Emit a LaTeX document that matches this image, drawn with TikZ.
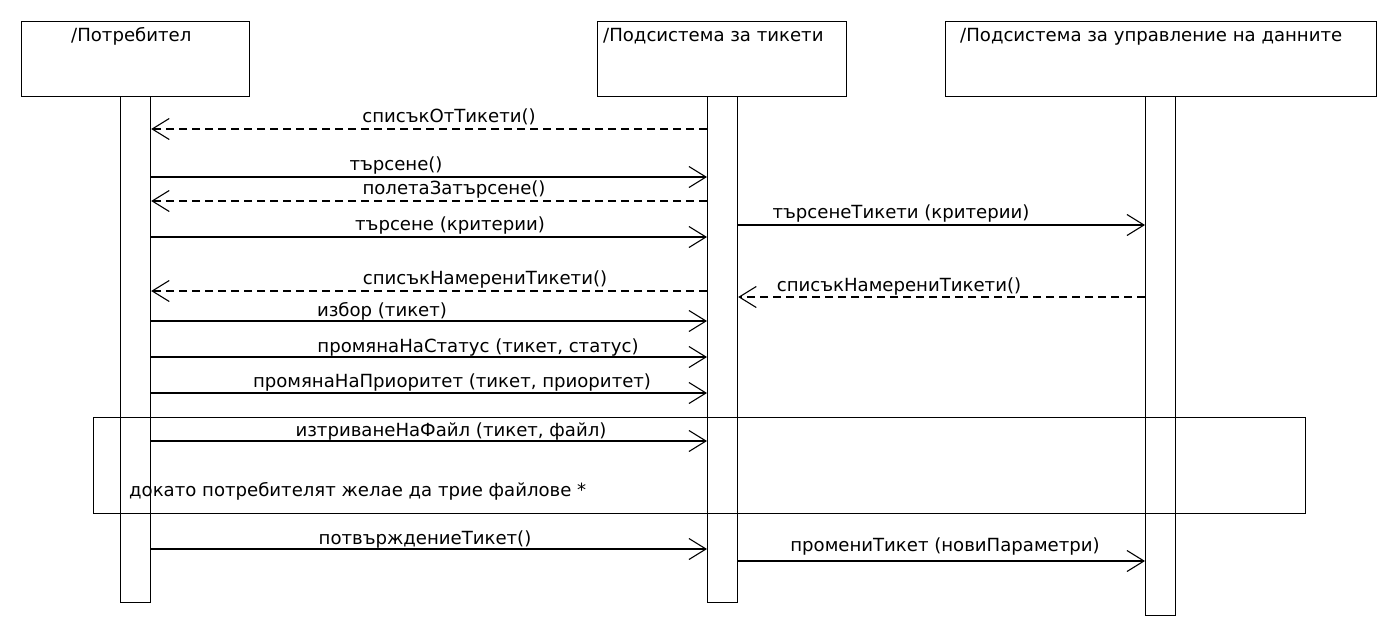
\documentclass[tikz,border=0pt]{standalone}
\usepackage{fontspec}
\setmainfont{DejaVu Sans}
\usetikzlibrary{arrows.meta}
\begin{document}
\begin{tikzpicture}[x=1pt,y=-1pt,
  every node/.style={font=\fontsize{18.1}{20}\selectfont, inner sep=0pt},
  obj/.style={draw, line width=1.2pt, anchor=north west},
  bar/.style={draw, line width=1.2pt, anchor=north west, minimum width=30pt},
  frame/.style={draw, line width=1.2pt},
  msg/.style={line width=1.1pt, -{Straight Barb[length=17pt,width=21pt,line width=1.1pt]}},
  ret/.style={msg, dash pattern=on 8pt off 5pt},
  lbl/.style={anchor=base}]
\useasboundingbox (0,0) rectangle (1397,638);
% objects
\node[obj, minimum width=228pt, minimum height=75pt] (U) at (21,21) {};
\node[anchor=base west] (Ut) at (71,41) {/Потребител};
\node[obj, minimum width=249pt, minimum height=75pt] (T) at (597,21) {};
\node[anchor=base west] (Tt) at (603,41) {/Подсистема за тикети};
\node[obj, minimum width=431pt, minimum height=75pt] (D) at (945,21) {};
\node[anchor=base west] (Dt) at (960,41) {/Подсистема за управление на данните};
% activation bars
\node[bar, minimum height=506pt] (u) at (120,96) {};
\node[bar, minimum height=506pt] (t) at (707,96) {};
\node[bar, minimum height=519pt] (d) at (1145,96) {};
% loop frame
\node[frame, anchor=north west, minimum width=1212pt, minimum height=96pt] (L) at (93,417) {};
\node[anchor=base west] (Lt) at (129,496) {докато потребителят желае да трие файлове *};
% messages
\draw[ret] (t.west |- 0,129) -- (u.east |- 0,129);
\node[lbl] at (449,122) {списъкОтТикети()};
\draw[msg] (u.east |- 0,177) -- (t.west |- 0,177);
\node[lbl] at (396,170) {търсене()};
\draw[ret] (t.west |- 0,201) -- (u.east |- 0,201);
\node[lbl] at (454,194) {полетаЗатърсене()};
\draw[msg] (t.east |- 0,225) -- (d.west |- 0,225);
\node[lbl] at (901,218) {търсенеТикети (критерии)};
\draw[msg] (u.east |- 0,237) -- (t.west |- 0,237);
\node[lbl] at (450,230) {търсене (критерии)};
\draw[ret] (t.west |- 0,291) -- (u.east |- 0,291);
\node[lbl] at (485,284) {списъкНамерениТикети()};
\draw[ret] (d.west |- 0,297) -- (t.east |- 0,297);
\node[lbl] at (899,291) {списъкНамерениТикети()};
\draw[msg] (u.east |- 0,321) -- (t.west |- 0,321);
\node[lbl] at (382,316) {избор (тикет)};
\draw[msg] (u.east |- 0,357) -- (t.west |- 0,357);
\node[lbl] at (478,352) {промянаНаСтатус (тикет, статус)};
\draw[msg] (u.east |- 0,393) -- (t.west |- 0,393);
\node[lbl] at (452,387) {промянаНаПриоритет (тикет, приоритет)};
\draw[msg] (u.east |- 0,441) -- (t.west |- 0,441);
\node[lbl] at (451,436) {изтриванеНаФайл (тикет, файл)};
\draw[msg] (u.east |- 0,549) -- (t.west |- 0,549);
\node[lbl] at (425,544) {потвърждениеТикет()};
\draw[msg] (t.east |- 0,561) -- (d.west |- 0,561);
\node[lbl] at (945,551) {промениТикет (новиПараметри)};
\end{tikzpicture}
\end{document}
